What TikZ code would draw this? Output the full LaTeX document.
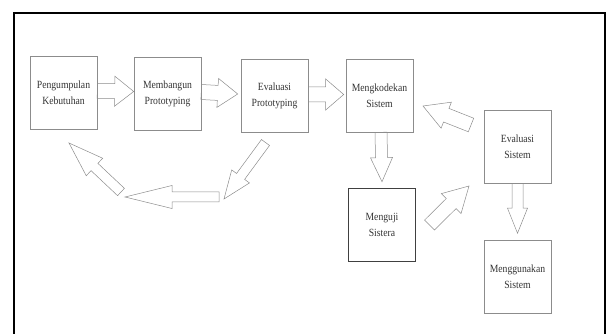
\documentclass[tikz,border=0pt]{standalone}
\usepackage{fontspec}
\setmainfont{Liberation Serif}
\newfontfamily\boxfont[FakeStretch=0.88]{Liberation Serif}
\usetikzlibrary{calc}

\tikzset{
  stage/.style={draw=black!45, line width=0.6pt, minimum width=67pt, minimum height=73pt,
    align=center, text=black!80, font=\boxfont\fontsize{11}{16}\selectfont},
  blockline/.style={draw=black!45, line width=0.5pt, line join=miter}
}

% block arrow: from, to, half shaft width, half head width, head length
\newcommand{\blockarrow}[5]{%
  \draw[blockline] let \p1=(#1), \p2=(#2), \n1={atan2(\y2-\y1,\x2-\x1)} in
    ($(\p1)+(\n1+90:#3pt)$) -- ($(\p2)+(\n1+180:#5pt)+(\n1+90:#3pt)$)
    -- ($(\p2)+(\n1+180:#5pt)+(\n1+90:#4pt)$) -- (\p2)
    -- ($(\p2)+(\n1+180:#5pt)+(\n1-90:#4pt)$) -- ($(\p2)+(\n1+180:#5pt)+(\n1-90:#3pt)$)
    -- ($(\p1)+(\n1-90:#3pt)$) -- cycle;}

\begin{document}
\begin{tikzpicture}[x=1pt, y=-1pt]
  \useasboundingbox (0,0) rectangle (606,334);
  \draw[line width=2pt] (14,334) -- (14,13) -- (604.5,13) -- (604.5,334);

  \node[stage] (kebutuhan) at (63.5, 93) {Pengumpulan\\Kebutuhan};
  \node[stage] (membangun) at (167.5, 93.5) {Membangun\\Prototyping};
  \node[stage] (evalproto) at (274.5, 95.5) {Evaluasi\\Prototyping};
  \node[stage] (kode) at (379.5, 95.5) {Mengkodekan\\Sistem};
  \node[stage] (evalsistem) at (517.5, 146.5) {Evaluasi\\Sistem};
  \node[stage, draw=black!75] (uji) at (382, 224.5) {Menguji\\Sistera};
  \node[stage] (guna) at (517.5, 277) {Menggunakan\\Sistem};

  \coordinate (balik1s) at (265.5, 142.5);
  \coordinate (balik1e) at (224, 199);
  \coordinate (balik2s) at (219, 197);
  \coordinate (balik2e) at (125, 197);
  \coordinate (balik3s) at (121, 192);
  \coordinate (balik3e) at (69, 143);
  \coordinate (ujis) at (429.5, 225);
  \coordinate (ujie) at (469, 186);
  \coordinate (evals) at (471, 125);
  \coordinate (evale) at (423, 106);

  \blockarrow{[yshift=2pt]kebutuhan.east}{[yshift=2pt]membangun.west}{7.5}{15}{19}
  \blockarrow{[yshift=1.5pt]membangun.east}{[xshift=-3pt,yshift=1.5pt]evalproto.west}{7.5}{14.5}{20}
  \blockarrow{[yshift=1pt]evalproto.east}{[xshift=-2pt,yshift=1pt]kode.west}{7.5}{15.5}{18}
  \blockarrow{[xshift=1.5pt]kode.south}{[yshift=6pt]uji.north}{6}{11}{24}
  \blockarrow{evalsistem.south}{[yshift=7pt]guna.north}{5.5}{10}{25}
  \blockarrow{evals}{evale}{7.3}{14}{25}
  \blockarrow{ujis}{ujie}{7}{14}{25}
  \blockarrow{balik1s}{balik1e}{5}{11}{28}
  \blockarrow{balik2s}{balik2e}{5}{11.5}{47}
  \blockarrow{balik3s}{balik3e}{5}{12}{35}
\end{tikzpicture}
\end{document}
